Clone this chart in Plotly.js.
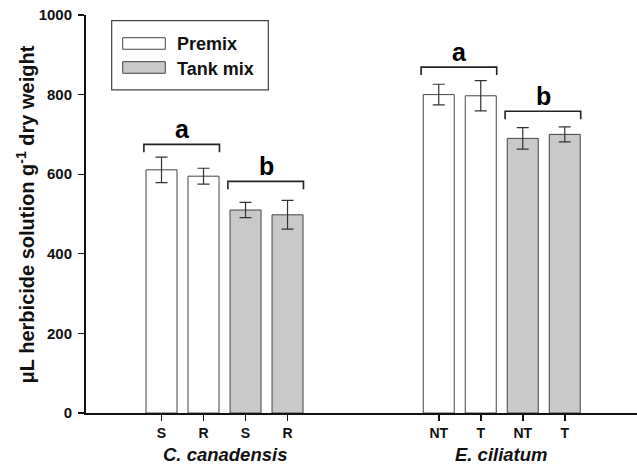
<!DOCTYPE html>
<html>
<head>
<meta charset="utf-8">
<script src="https://cdn.plot.ly/plotly-3.0.1.min.js"></script>
<style>html,body{margin:0;padding:0;background:#fff;}#chart{width:637px;height:472px;}</style>
</head>
<body>
<div id="chart"></div>
<script>
// ---- data ----
const species = ["C. canadensis", "E. ciliatum"];
const premixLabels = [["S", "R"], ["NT", "T"]];
const tankLabels = [["S", "R"], ["NT", "T"]];
const premixValues = [[611, 595], [800, 797]];
const premixErrors = [[32, 20], [26, 38]];
const tankValues = [[510, 498], [690, 700]];
const tankErrors = [[19, 36], [27, 19]];
const groupLetters = [["a", "b"], ["a", "b"]];
const bracketHeights = [[675, 582], [869, 758]];
const seriesNames = ["Premix", "Tank mix"];
const yTicks = [0, 200, 400, 600, 800, 1000];

// ---- layout helpers (positions) ----
const groupStart = [1, 7.6];
const barW = 0.738;
const FONT = "Liberation Sans, Arial, sans-serif";

const pX = [], pY = [], pE = [], tX = [], tY = [], tE = [], tickV = [], tickT = [];
species.forEach((s, g) => {
  const base = groupStart[g];
  premixValues[g].forEach((v, i) => {
    pX.push(base + i); pY.push(v); pE.push(premixErrors[g][i]);
    tickV.push(base + i); tickT.push(premixLabels[g][i]);
  });
  tankValues[g].forEach((v, i) => {
    tX.push(base + 2 + i); tY.push(v); tE.push(tankErrors[g][i]);
    tickV.push(base + 2 + i); tickT.push(tankLabels[g][i]);
  });
});

const traces = [
  {type: "bar", name: seriesNames[0], x: pX, y: pY, width: barW,
   marker: {color: "#ffffff", line: {color: "#444", width: 1}},
   error_y: {type: "data", array: pE, visible: true, color: "#333", thickness: 1.2, width: 6},
   showlegend: false, hoverinfo: "skip"},
  {type: "bar", name: seriesNames[1], x: tX, y: tY, width: barW,
   marker: {color: "#c9c9c9", line: {color: "#444", width: 1}},
   error_y: {type: "data", array: tE, visible: true, color: "#333", thickness: 1.2, width: 6},
   showlegend: false, hoverinfo: "skip"}
];

// brackets + letters
const annotations = [];
const dropDown = 20;
species.forEach((s, g) => {
  const base = groupStart[g];
  [0, 1].forEach(k => {
    const xl = base + 2 * k - 0.42, xr = base + 2 * k + 1 + 0.38;
    const h = bracketHeights[g][k];
    traces.push({type: "scatter", mode: "lines", x: [xl, xl, xr, xr], y: [h - dropDown, h, h, h - dropDown],
      line: {color: "#222", width: 1.6}, showlegend: false, hoverinfo: "skip"});
    annotations.push({x: base + 2 * k + 0.5, y: h, xref: "x", yref: "y", text: "<b>" + groupLetters[g][k] + "</b>",
      showarrow: false, yanchor: "bottom", xanchor: "center", yshift: -1, font: {family: FONT, size: 25, color: "#000"}});
  });
  annotations.push({x: base + 1.5, y: -0.1047, xref: "x", yref: "paper", text: "<b><i>" + s + "</i></b>",
    showarrow: false, yanchor: "middle", xanchor: "center", font: {family: FONT, size: 18.5, color: "#111"}});
});

// y title
annotations.push({x: -0.1107, y: 0.499, xref: "paper", yref: "paper", textangle: -90,
  text: "<b>μL herbicide solution g<sup>-1</sup> dry weight</b>", showarrow: false,
  xanchor: "center", yanchor: "middle", font: {family: FONT, size: 20, color: "#111"}});

// manual legend
const shapes = [
  {type: "rect", xref: "paper", yref: "paper", x0: 0.0466, x1: 0.3309, y0: 0.8117, y1: 0.9857,
   line: {color: "#444", width: 1.2}, fillcolor: "rgba(255,255,255,0)"},
  {type: "rect", xref: "paper", yref: "paper", x0: 0.0666, x1: 0.1439, y0: 0.9139, y1: 0.943,
   line: {color: "#444", width: 1}, fillcolor: "#ffffff"},
  {type: "rect", xref: "paper", yref: "paper", x0: 0.0666, x1: 0.1439, y0: 0.8536, y1: 0.8828,
   line: {color: "#444", width: 1}, fillcolor: "#c9c9c9"}
];
annotations.push({x: 0.1610, y: 0.9272, xref: "paper", yref: "paper", text: "<b>" + seriesNames[0] + "</b>",
  showarrow: false, xanchor: "left", yanchor: "middle", font: {family: FONT, size: 18, color: "#111"}});
annotations.push({x: 0.1610, y: 0.8637, xref: "paper", yref: "paper", text: "<b>" + seriesNames[1] + "</b>",
  showarrow: false, xanchor: "left", yanchor: "middle", font: {family: FONT, size: 18, color: "#111"}});

const layout = {
  width: 637, height: 472,
  margin: {l: 86, r: 0, t: 15, b: 58.7, pad: 0},
  paper_bgcolor: "#fff", plot_bgcolor: "#fff",
  barmode: "overlay",
  showlegend: false,
  font: {family: FONT, color: "#111"},
  xaxis: {range: [-0.798, 12.32], tickmode: "array", tickvals: tickV, ticktext: tickT.map(t => "<b>" + t + "</b>"),
    ticks: "outside", ticklen: 6, tickwidth: 1.6, tickcolor: "#111",
    showline: true, linecolor: "#111", linewidth: 2, showgrid: false, zeroline: false,
    tickfont: {family: FONT, size: 14, color: "#111"}, fixedrange: true},
  yaxis: {range: [0, 1000], tickmode: "array", tickvals: yTicks, ticktext: yTicks.map(t => "<b>" + t + "</b>"),
    ticks: "outside", ticklen: 6, tickwidth: 1.2, tickcolor: "#111",
    showline: true, linecolor: "#111", linewidth: 2, showgrid: false, zeroline: false,
    tickfont: {family: FONT, size: 15, color: "#111"}, ticklabelstandoff: 3, fixedrange: true},
  annotations: annotations,
  shapes: shapes
};

Plotly.newPlot("chart", traces, layout, {staticPlot: true, displayModeBar: false});
</script>
</body>
</html>
